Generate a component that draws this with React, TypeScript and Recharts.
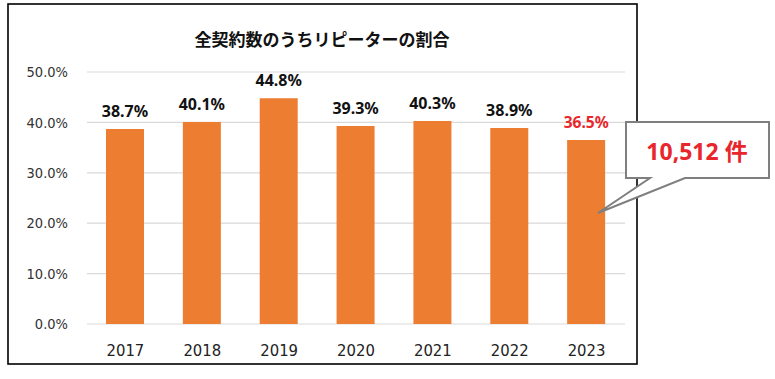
import React from "react";
import { BarChart, Bar, XAxis, YAxis, CartesianGrid, LabelList } from "recharts";

const years = ["2017", "2018", "2019", "2020", "2021", "2022", "2023"];
const repeatRates = [38.7, 40.1, 44.8, 39.3, 40.3, 38.9, 36.5];
const yTicks = [0, 10, 20, 30, 40, 50];
const highlightYear = "2023";
const title = "全契約数のうちリピーターの割合";
const calloutText = "10,512 件";

const data = years.map((y, i) => ({ year: y, rate: repeatRates[i] }));

const BAR = "#ED7D31";

const renderLabel = (props: any) => {
  const { x, y, width, value, index } = props;
  const isHi = years[Number(index)] === highlightYear;
  const v = Number(value);
  return (
    <text
      x={Number(x) + Number(width) / 2}
      y={Number(y) - 12}
      textAnchor="middle"
      fontFamily="'Noto Sans', sans-serif"
      fontWeight={700}
      fontSize={isHi ? 15.5 : 16}
      fill={isHi ? "#E8262B" : "#111"}
    >
      {v.toFixed(1)}%
    </text>
  );
};

export default function App() {
  return (
    <div style={{ position: "absolute", left: 0, top: 0, width: 775, height: 379, background: "#fff" }}>
      <svg width={775} height={379} style={{ position: "absolute", left: 0, top: 0 }}>
        <rect x={8} y={4} width={629} height={360} fill="#fff" stroke="#000" strokeWidth={1.6} />
      </svg>
      <div style={{ position: "absolute", left: 0, top: 0 }}>
        <BarChart
          width={775}
          height={379}
          data={data}
          margin={{ top: 72, right: 150, bottom: 25, left: 0 }}
        >
          <CartesianGrid vertical={false} stroke="#D9D9D9" strokeWidth={1.2} />
          <XAxis
            dataKey="year"
            axisLine={false}
            tickLine={false}
            tickMargin={14}
            height={30}
            tick={{ fontFamily: "'DejaVu Sans Condensed', sans-serif", fontSize: 16.5, fill: "#222" }}
          />
          <YAxis
            width={87}
            domain={[0, 50]}
            ticks={yTicks}
            interval={0}
            axisLine={false}
            tickLine={false}
            tickMargin={13}
            tickFormatter={(v: number) => `${v.toFixed(1)}%`}
            tick={{ fontFamily: "'DejaVu Sans Condensed', sans-serif", fontSize: 14.5, fill: "#333" }}
          />
          <Bar dataKey="rate" fill={BAR} barSize={38} isAnimationActive={false}>
            <LabelList dataKey="rate" content={renderLabel} />
          </Bar>
        </BarChart>
      </div>
      <svg width={775} height={379} style={{ position: "absolute", left: 0, top: 0, pointerEvents: "none" }}>
        <text
          x={322}
          y={46}
          textAnchor="middle"
          fontFamily="'Noto Sans CJK JP', sans-serif"
          fontWeight={700}
          fontSize={17}
          fill="#111"
        >
          {title}
        </text>
        <path
          d="M626,122 L769,122 L769,178 L685,178 L598,213 L650,178 L626,178 Z"
          fill="#fff"
          stroke="#7F7F7F"
          strokeWidth={2}
        />
        <text
          x={697}
          y={160}
          textAnchor="middle"
          fontFamily="'Noto Sans', 'Noto Sans CJK JP', sans-serif"
          fontWeight={700}
          fontSize={23}
          fill="#E8262B"
        >
          {calloutText}
        </text>
      </svg>
    </div>
  );
}
